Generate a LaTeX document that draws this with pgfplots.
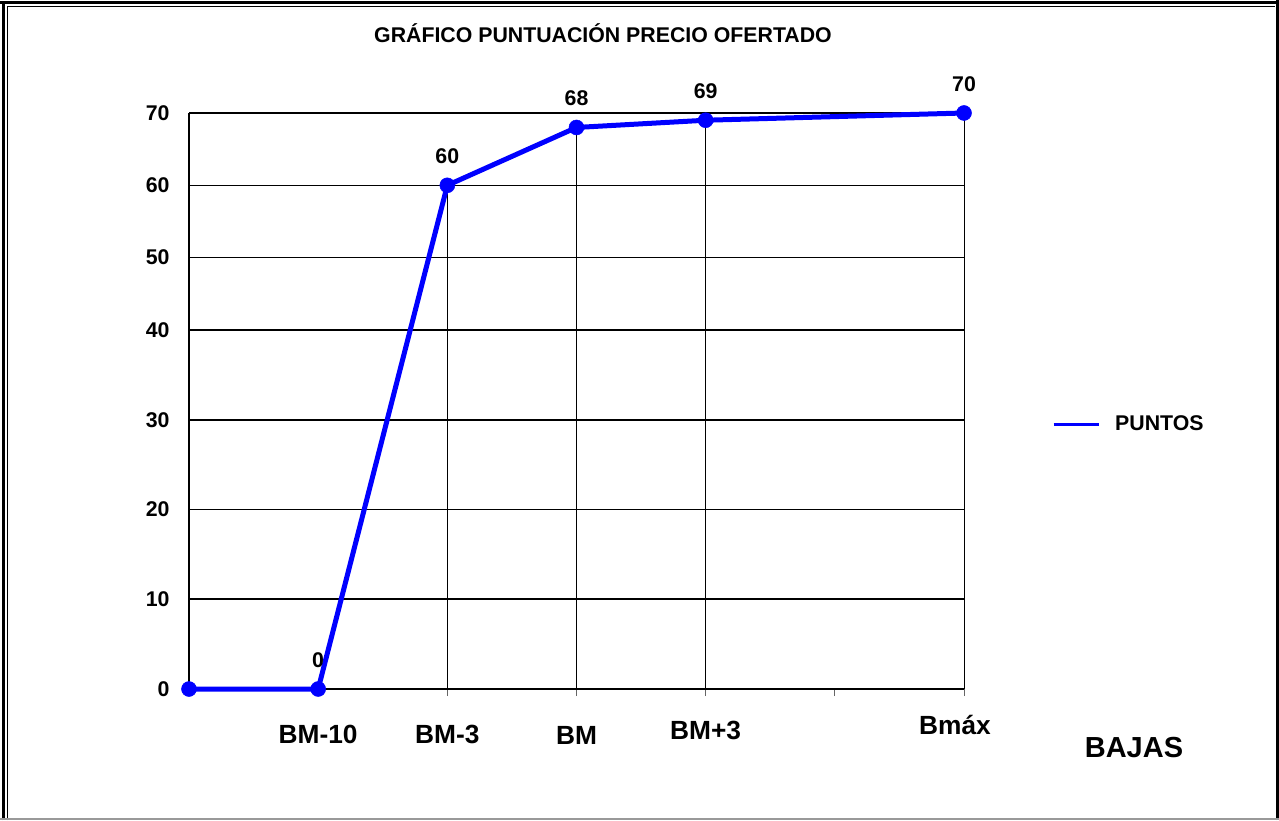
\documentclass[border=0pt]{standalone}
\usepackage{pgfplots}
\pgfplotsset{compat=1.18}
\usepackage{fontspec}
\setmainfont{Liberation Sans}
\newcommand\fA{\fontsize{21.3pt}{25pt}\selectfont\bfseries}
\newcommand\fX{\fontsize{26.3pt}{30pt}\selectfont\bfseries}
\newcommand\fB{\fontsize{29pt}{34pt}\selectfont\bfseries}
\begin{document}
\begin{tikzpicture}
\useasboundingbox (0,0) rectangle (1279pt,820pt);
% frame
\draw[line width=2.5pt] (3.5pt,0) -- (3.5pt,818pt);
\draw[line width=2.5pt] (0,817.5pt) -- (1279pt,817.5pt);
\draw[line width=1pt] (7pt,0) -- (7pt,813pt) -- (1275pt,813pt);
\draw[line width=2.5pt] (1277.5pt,0) -- (1277.5pt,820pt);
\draw[line width=1.5pt, black!40] (0,1pt) -- (1279pt,1pt);
\node[font=\fA] at (603pt,787pt) {GRÁFICO PUNTUACIÓN PRECIO OFERTADO};
\node[font=\fB] at (1134pt,72pt) {BAJAS};
\begin{axis}[
  at={(189pt,131pt)}, anchor=south west,
  scale only axis, width=775pt, height=576pt,
  xmin=0, xmax=6, ymin=0, ymax=70,
  y coord trafo/.code={\pgfmathparse{(#1<40)*(#1*8.975)+(#1>=40)*(359+(#1-40)*7.233)}},
  axis x line*=bottom, axis y line*=left,
  axis line style={-},
  x axis line style={line width=2.5pt},
  y axis line style={line width=1.8pt},
  xtick={0,1,2,3,4,5,6},
  xticklabels={,{BM-10},{BM-3},{\raisebox{-1.5pt}{BM}},{\raisebox{4pt}{BM+3}},,{\raisebox{8.5pt}{\makebox[0pt]{\hspace*{-18pt}Bmáx}}}},
  ytick={0,10,20,30,40,50,60,70},
  yticklabels={0,10,20,30,40,50,60,70},
  tick align=outside,
  major tick length=7pt,
  xtick style={draw=black!60, line width=1pt},
  ytick style={draw=none},
  ymajorgrids,
  grid style={black, line width=1.6pt},
  xticklabel style={font=\fX, anchor=base, yshift=-47pt},
  yticklabel style={font=\fA, xshift=-9pt},
  /pgf/number format/assume math mode=true,
  clip=false,
  legend style={draw=none, fill=none, at={(1.1135,0.46)}, anchor=west, font=\fA,
    inner sep=0pt, /tikz/every odd column/.append style={column sep=13pt}},
  legend image code/.code={\draw[blue, line width=3pt] (0pt,0pt) -- (45pt,0pt);},
  legend cell align=left,
]
% drop lines
\addplot[ycomb, black, line width=1pt, no markers, forget plot]
  coordinates {(2,60) (3,68) (4,69) (6,70)};
% main series
\addplot[blue, line width=5pt, mark=*, mark size=7.5pt,
  mark options={fill=blue, draw=blue, line width=0.5pt}]
  coordinates {(0,0) (1,0) (2,60) (3,68) (4,69) (6,70)};
\addlegendentry{PUNTOS}
% value labels
\addplot[draw=none, no markers, forget plot,
  point meta=explicit symbolic,
  nodes near coords,
  every node near coord/.append style={font=\fA, anchor=center, inner sep=0pt, yshift=29pt}]
  coordinates {(1,0) [0] (2,60) [60] (3,68) [68] (4,69) [69] (6,70) [70]};
\end{axis}
\end{tikzpicture}
\end{document}
